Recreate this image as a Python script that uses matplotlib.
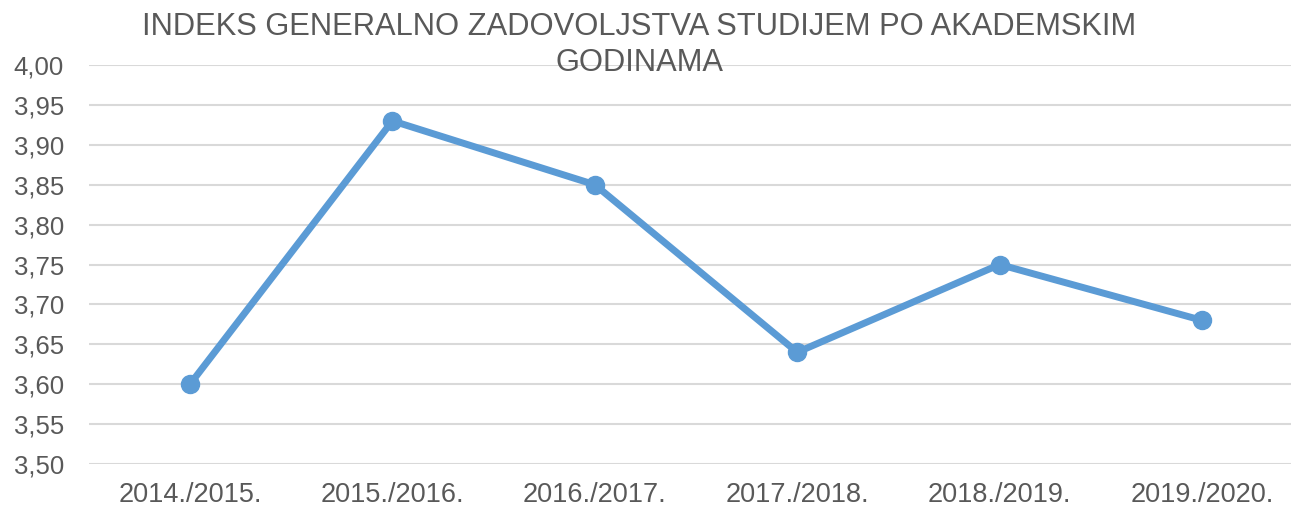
import matplotlib
matplotlib.use("Agg")
import matplotlib.pyplot as plt
import numpy as np

years = ["2014./2015.", "2015./2016.", "2016./2017.", "2017./2018.", "2018./2019.", "2019./2020."]
index_values = [3.60, 3.93, 3.85, 3.64, 3.75, 3.68]
y_ticks = [3.50, 3.55, 3.60, 3.65, 3.70, 3.75, 3.80, 3.85, 3.90, 3.95, 4.00]

plt.rcParams.update({
    "font.family": ["Liberation Sans", "DejaVu Sans"],
    "text.color": "#595959",
})
BLUE = "#5B9BD5"
GREY = "#595959"

fig = plt.figure(figsize=(12.91, 5.08), dpi=100)
ax = fig.add_axes([0.0688, 0.0866, 0.9407, 0.7854])

x = np.arange(len(years))
ax.plot(x, index_values, "-o", color=BLUE, lw=5, ms=13, solid_capstyle="round", zorder=3)

ax.set_xlim(-0.5, len(years) - 0.5)
ax.set_ylim(3.50, 4.00)
ax.set_yticks(y_ticks)
ax.set_yticklabels([f"{v:.2f}".replace(".", ",") for v in y_ticks])
ax.set_xticks(x)
ax.set_xticklabels(years)
ax.tick_params(axis="both", length=0, colors=GREY)
ax.tick_params(axis="y", pad=18, labelsize=18.5)
ax.tick_params(axis="x", pad=13, labelsize=19.5)
ax.grid(axis="y", color="#D9D9D9", lw=1.5)
ax.set_axisbelow(True)
for s in ax.spines.values():
    s.set_visible(False)

fig.text(0.495, 0.911, "INDEKS GENERALNO ZADOVOLJSTVA STUDIJEM PO AKADEMSKIM\nGODINAMA",
         ha="center", va="center", fontsize=22.2, color=GREY, linespacing=1.25)

fig.savefig("out.png", dpi=100)
